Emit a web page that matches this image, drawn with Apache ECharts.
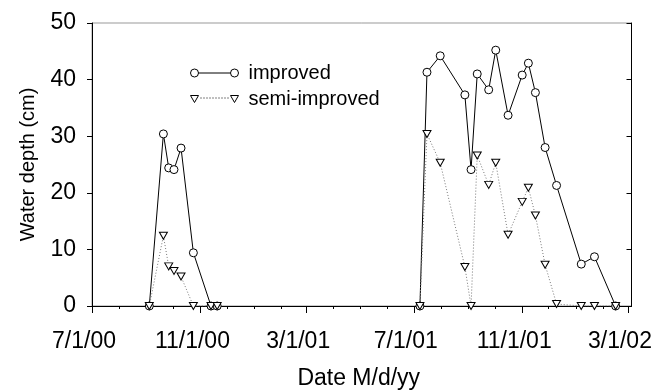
<!DOCTYPE html>
<html>
<head>
<meta charset="utf-8">
<script src="https://cdn.jsdelivr.net/npm/echarts@6/dist/echarts.min.js"></script>
<style>html,body{margin:0;padding:0;background:#fff}#c{width:655px;height:391px}</style>
</head>
<body>
<div id="c"></div>
<script>
// Period 1 (2000) and period 2 (2001-02) sampling dates
const dates1 = ['2000-09-04','2000-09-20','2000-09-26','2000-10-02','2000-10-10','2000-10-24','2000-11-13','2000-11-20'];
const improved1 = [0, 30.4, 24.4, 24.1, 27.9, 9.4, 0, 0];
const semi1     = [0, 12.4, 7.0, 6.2, 5.2, 0, 0, 0];

const dates2 = ['2001-07-08','2001-07-16','2001-07-31','2001-08-28','2001-09-04','2001-09-11','2001-09-24','2001-10-02','2001-10-16','2001-11-01','2001-11-08','2001-11-16','2001-11-27','2001-12-10','2002-01-07','2002-01-22','2002-02-15'];
const improved2 = [0, 41.3, 44.2, 37.3, 24.1, 41.0, 38.2, 45.2, 33.7, 40.8, 42.9, 37.7, 28.0, 21.3, 7.4, 8.7, 0];
const semi2     = [0, 30.4, 25.3, 6.9, 0, 26.6, 21.4, 25.3, 12.6, 18.4, 20.9, 16.0, 7.3, 0.35, 0, 0, 0];

const tickDates = ['2000-07-01','2000-11-01','2001-03-01','2001-07-01','2001-11-01','2002-03-01'];
const yTicks = [0, 10, 20, 30, 40, 50];

const t = s => new Date(s + 'T00:00:00Z').getTime();
const xMin = t('2000-07-01');
const xMax = t('2002-03-05');

function build(d1, v1, d2, v2) {
  const out = d1.map((d, i) => [t(d), v1[i]]);
  out.push([(t(d1[d1.length - 1]) + t(d2[0])) / 2, null]);
  return out.concat(d2.map((d, i) => [t(d), v2[i]]));
}

const monthTicks = [];
for (let y = 2000, m = 6; y < 2002 || (y === 2002 && m <= 2); m++) {
  if (m > 11) { m = 0; y++; }
  if (y === 2002 && m > 2) break;
  monthTicks.push(Date.UTC(y, m, 1));
}
const majorTicks = tickDates.map(t);

const fmt = v => { const d = new Date(v); return (d.getUTCMonth() + 1) + '/' + d.getUTCDate() + '/' + String(d.getUTCFullYear()).slice(2); };

const FONT = '"Liberation Sans", Arial, Helvetica, sans-serif';

const circIcon = 'path://M0,4 A4,4 0 1,1 8,4 A4,4 0 1,1 0,4 Z M8,4 L40,4 M40,4 A4,4 0 1,1 48,4 A4,4 0 1,1 40,4 Z';
let dots = '';
for (let x = 10; x <= 37; x += 3) dots += ' M' + x + ',2.5 L' + (x + 1) + ',2.5';
const triIcon = 'path://M0,0 L8,0 L4,7 Z M40,0 L48,0 L44,7 Z' + dots;

const chart = echarts.init(document.getElementById('c'), null, { renderer: 'canvas' });
chart.setOption({
  animation: false,
  backgroundColor: '#fff',
  textStyle: { fontFamily: FONT },
  grid: { left: 92, right: 23.5, top: 23, bottom: 85, show: true, borderColor: '#999', borderWidth: 1,
          containLabel: false, outerBoundsMode: 'none' },
  legend: {
    orient: 'vertical', left: 185, top: 58, itemGap: 6,
    itemWidth: 48, itemHeight: 8,
    textStyle: { fontSize: 20, color: '#000', fontFamily: FONT, padding: [0, 0, 0, 5] },
    data: [
      { name: 'improved', icon: circIcon, itemStyle: { color: '#fff', borderColor: '#000', borderWidth: 1 } },
      { name: 'semi-improved', icon: triIcon, itemStyle: { color: '#fff', borderColor: '#000', borderWidth: 1 } }
    ]
  },
  xAxis: [{
    type: 'value', min: xMin, max: xMax,
    name: 'Date M/d/yy', nameLocation: 'middle', nameGap: 61,
    nameTextStyle: { fontSize: 23, color: '#000', fontFamily: FONT, verticalAlign: 'top', padding: [0, 6, 0, 0] },
    axisLine: { onZero: false, lineStyle: { color: '#000', width: 1 } },
    axisTick: { show: true, inside: false, length: 7, customValues: majorTicks, lineStyle: { color: '#000' } },
    axisLabel: { customValues: majorTicks, formatter: fmt, margin: 24, fontSize: 23, color: '#000', fontFamily: FONT, padding: [0, 16, 0, 0] },
    splitLine: { show: false }
  }, {
    type: 'value', min: xMin, max: xMax, position: 'bottom',
    axisLine: { show: false },
    axisTick: { show: true, inside: false, length: 3, customValues: monthTicks, lineStyle: { color: '#000' } },
    axisLabel: { show: false },
    splitLine: { show: false }
  }],
  yAxis: [{
    type: 'value', min: 0, max: 50, interval: 10,
    name: 'Water depth (cm)', nameLocation: 'middle', nameGap: 54,
    nameTextStyle: { fontSize: 20, color: '#000', fontFamily: FONT },
    axisLine: { show: true, lineStyle: { color: '#000', width: 1 } },
    axisTick: { show: true, inside: false, length: 5, lineStyle: { color: '#000' } },
    axisLabel: { margin: 16, fontSize: 23, color: '#000', fontFamily: FONT, customValues: yTicks },
    splitLine: { show: false }
  }, {
    type: 'value', min: 0, max: 50, interval: 10, position: 'right',
    axisLine: { show: true, lineStyle: { color: '#000', width: 1 } },
    axisTick: { show: true, inside: true, length: 5, lineStyle: { color: '#000' } },
    axisLabel: { show: false },
    splitLine: { show: false }
  }],
  series: [{
    name: 'improved', type: 'line',
    data: build(dates1, improved1, dates2, improved2),
    connectNulls: false,
    symbol: 'circle', symbolSize: 8, showAllSymbol: true,
    lineStyle: { color: '#000', width: 1 },
    itemStyle: { color: '#fff', borderColor: '#000', borderWidth: 1 },
    z: 3
  }, {
    name: 'semi-improved', type: 'line',
    data: build(dates1, semi1, dates2, semi2),
    connectNulls: false,
    symbol: 'triangle', symbolRotate: 180, symbolSize: [8, 7], showAllSymbol: true,
    lineStyle: { color: '#777', width: 1, type: [1, 2] },
    itemStyle: { color: '#fff', borderColor: '#000', borderWidth: 1 },
    z: 4
  }]
});
</script>
</body>
</html>
